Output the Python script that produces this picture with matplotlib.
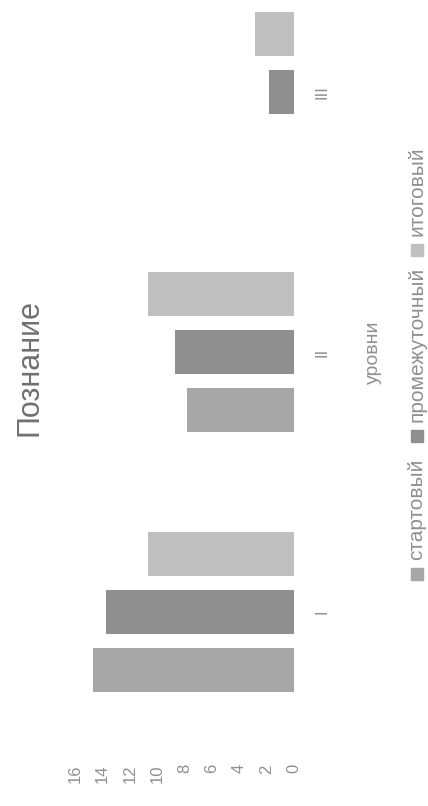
import matplotlib
matplotlib.use('Agg')
import matplotlib.pyplot as plt
from matplotlib.patches import Rectangle
import numpy as np

plt.rcParams['font.family'] = ['Liberation Sans', 'DejaVu Sans']

# данные
levels = ['I', 'II', 'III']
series = ['стартовый', 'промежуточный', 'итоговый']
start = [14.7, 7.8, 0]
middle = [13.7, 8.7, 1.8]
final = [10.7, 10.7, 2.85]
xticks = list(range(0, 17, 2))
colors = ['#a7a7a7', '#8f8f8f', '#c0c0c0']
txt = '#909090'

W, H = 428, 806
fig = plt.figure(figsize=(W / 100, H / 100), dpi=100)

# диаграмма повернута на 90 градусов: оси в пикселях картинки
ax = fig.add_axes([75 / W, 1 - 742 / H, (294 - 75) / W, 780 / H])
y = np.arange(len(levels))
for i, (vals, c) in enumerate(zip([start, middle, final], colors)):
    ax.barh(y + (i - 1) * 0.223, vals, height=0.169, color=c)
ax.set_xlim(16, 0)
ax.set_ylim(-0.5, 2.5)
ax.set_xticks(xticks)
ax.set_yticks(y)
ax.set_yticklabels(levels)
ax.yaxis.tick_right()
ax.tick_params(axis='x', labelrotation=90, length=0, pad=16, labelsize=12, labelcolor=txt)
ax.tick_params(axis='y', labelrotation=90, length=0, pad=15, labelsize=12, labelcolor=txt)
for lab in ax.get_yticklabels():
    lab.set_va('center')
for s in ax.spines.values():
    s.set_visible(False)

fig.text(373 / W, 1 - 352 / H, 'уровни', rotation=90, ha='center', va='center',
         fontsize=14, color=txt)
fig.text(30 / W, 1 - 368 / H, 'Познание', rotation=90, ha='center', va='center',
         fontsize=22, color='#707070')

# легенда вручную (повернутая)
marks = [574, 436, 250]
for name, c, m in zip(series, colors, marks):
    fig.add_artist(Rectangle((411 / W, 1 - (m + 6) / H), 12 / W, 12 / H,
                             transform=fig.transFigure, color=c))
    fig.text(417 / W, 1 - (m - 14) / H, name, rotation=90, ha='center', va='bottom',
             fontsize=15, color=txt)

fig.savefig('out.png', dpi=100)
